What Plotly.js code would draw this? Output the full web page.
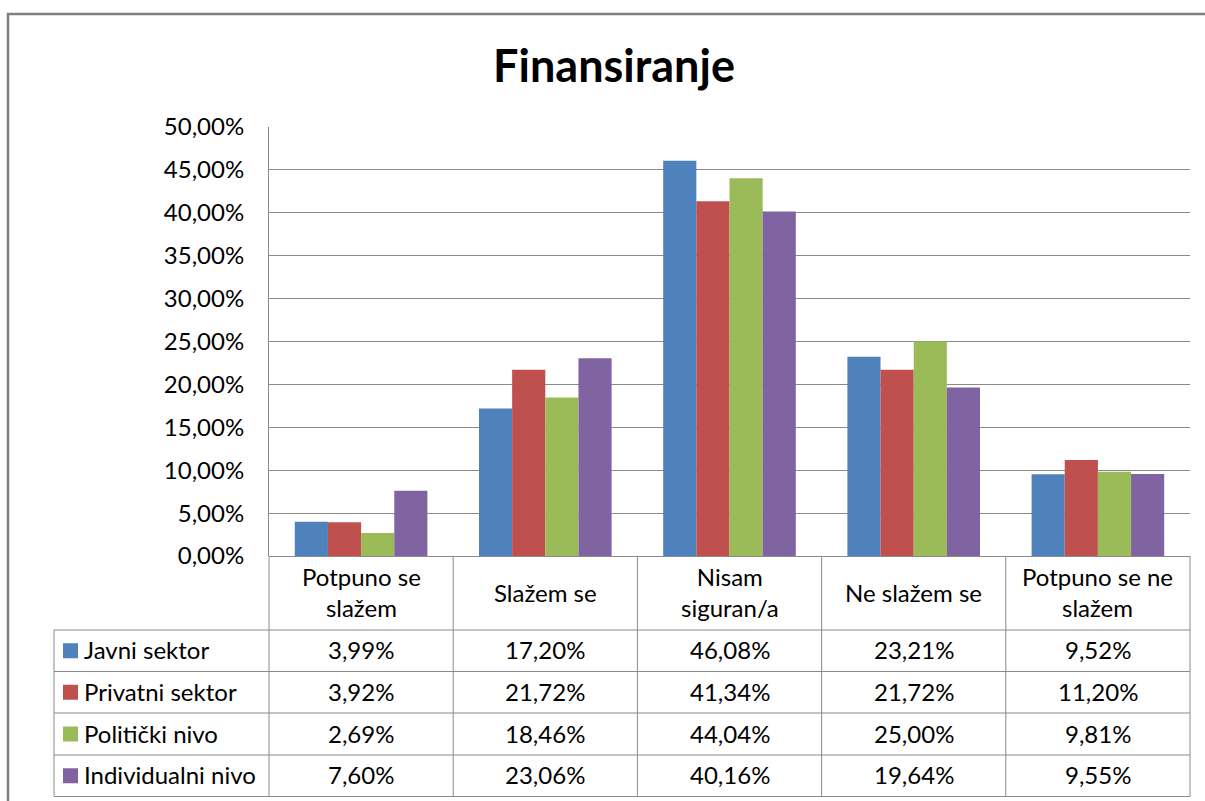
<!DOCTYPE html>
<html>
<head>
<meta charset="utf-8">
<script src="https://cdn.plot.ly/plotly-3.0.1.min.js"></script>
<style>html,body{margin:0;padding:0;background:#fff;}#chart{width:1205px;height:801px;}</style>
</head>
<body>
<div id="chart"></div>
<script>
// ---- data ----
const categories = ["Potpuno se<br>slažem", "Slažem se", "Nisam<br>siguran/a", "Ne slažem se", "Potpuno se ne<br>slažem"];
const seriesNames = ["Javni sektor", "Privatni sektor", "Politički nivo", "Individualni nivo"];
const javniSektor = [3.99, 17.20, 46.08, 23.21, 9.52];
const privatniSektor = [3.92, 21.72, 41.34, 21.72, 11.20];
const politickiNivo = [2.69, 18.46, 44.04, 25.00, 9.81];
const individualniNivo = [7.60, 23.06, 40.16, 19.64, 9.55];
const seriesColors = ["#4F81BD", "#C0504D", "#9BBB59", "#8064A2"];
const chartTitle = "Finansiranje";

// ---- layout geometry (pixels) ----
const W = 1205, H = 801;
const plotL = 269, plotR = 1190, plotT = 127, plotB = 556;
const tableL = 54;
const rowLines = [630, 671.5, 713, 755, 796.5];
const FONT = "Lato, 'Open Sans', sans-serif";
const FS = 24;
const gridCol = "#8a8a8a";

const px = x => x / W;
const py = y => (H - y) / H;

const allSeries = [javniSektor, privatniSektor, politickiNivo, individualniNivo];
const traces = allSeries.map((vals, i) => ({
  type: "bar",
  name: seriesNames[i],
  x: categories,
  y: vals.map(v => v / 100),
  marker: {color: seriesColors[i], line: {width: 0}},
  hoverinfo: "skip"
}));

const shapes = [];
const annotations = [];

// outer chart border (only top/left visible)
shapes.push({type: "rect", xref: "paper", yref: "paper", x0: px(8), x1: px(1230), y0: py(14), y1: py(830),
  line: {color: "#7f7f7f", width: 2.5}, layer: "above"});

const colW = (plotR - plotL) / categories.length;
// vertical lines of table (category columns)
for (let k = 0; k <= categories.length; k++) {
  const x = plotL + k * colW;
  shapes.push({type: "line", xref: "paper", yref: "paper", x0: px(x), x1: px(x), y0: py(plotB), y1: py(rowLines[rowLines.length - 1]),
    line: {color: gridCol, width: 1}});
}
// left edge of legend column
shapes.push({type: "line", xref: "paper", yref: "paper", x0: px(tableL), x1: px(tableL), y0: py(rowLines[0]), y1: py(rowLines[rowLines.length - 1]),
  line: {color: gridCol, width: 1}});
// horizontal lines
rowLines.forEach(y => shapes.push({type: "line", xref: "paper", yref: "paper", x0: px(tableL), x1: px(plotR), y0: py(y), y1: py(y),
  line: {color: gridCol, width: 1}}));

// category header labels
categories.forEach((c, j) => {
  annotations.push({xref: "paper", yref: "paper", x: px(plotL + (j + 0.5) * colW), y: py((plotB + rowLines[0]) / 2 - 1),
    text: c, showarrow: false, xanchor: "center", yanchor: "middle", align: "center",
    font: {family: FONT, size: FS, color: "#000"}});
});

// series rows
const fmt = v => v.toFixed(2).replace(".", ",") + "%";
allSeries.forEach((vals, i) => {
  const yc = (rowLines[i] + rowLines[i + 1]) / 2;
  shapes.push({type: "rect", xref: "paper", yref: "paper", x0: px(63), x1: px(78), y0: py(yc - 7.5), y1: py(yc + 7.5),
    fillcolor: seriesColors[i], line: {width: 0}});
  annotations.push({xref: "paper", yref: "paper", x: px(82), y: py(yc - 1), text: seriesNames[i], showarrow: false,
    xanchor: "left", yanchor: "middle", font: {family: FONT, size: FS, color: "#000"}});
  vals.forEach((v, j) => {
    annotations.push({xref: "paper", yref: "paper", x: px(plotL + (j + 0.5) * colW), y: py(yc - 1), text: fmt(v), showarrow: false,
      xanchor: "center", yanchor: "middle", font: {family: FONT, size: FS, color: "#000"}});
  });
});

const layout = {
  width: W, height: H,
  margin: {l: 0, r: 0, t: 0, b: 0},
  paper_bgcolor: "#fff", plot_bgcolor: "#fff",
  separators: ",.",
  showlegend: false,
  barmode: "group",
  bargap: 0.28,
  bargroupgap: 0,
  title: {text: "<b>" + chartTitle + "</b>", x: px(614), xanchor: "center", y: py(66), yanchor: "middle",
    font: {family: FONT, size: 45, color: "#000"}},
  xaxis: {domain: [px(plotL), px(plotR)], showticklabels: false, ticks: "", showgrid: false, zeroline: false,
    showline: false, fixedrange: true},
  yaxis: {domain: [py(plotB), py(plotT)], range: [0, 0.5], dtick: 0.05, tick0: 0, tickformat: ".2%",
    showgrid: true, gridcolor: gridCol, gridwidth: 1, zeroline: true, zerolinecolor: gridCol, zerolinewidth: 1,
    showline: true, linecolor: gridCol, linewidth: 1, ticks: "", ticklabelstandoff: 19,
    tickfont: {family: FONT, size: FS, color: "#000"}, fixedrange: true},
  shapes: shapes,
  annotations: annotations
};

Plotly.newPlot("chart", traces, layout, {displayModeBar: false, staticPlot: true});
</script>
</body>
</html>
